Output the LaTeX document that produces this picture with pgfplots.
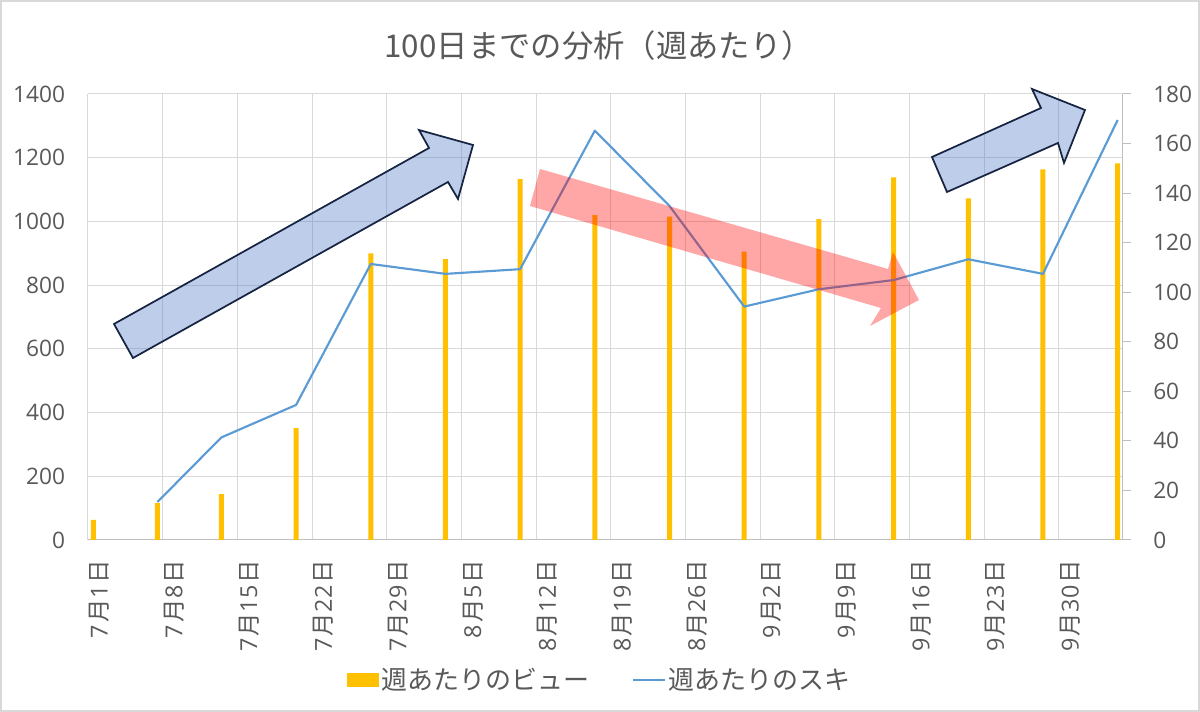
\documentclass[border=0pt]{standalone}
\usepackage{fontspec}
\setmainfont{Open Sans}
\newfontfamily\cjk{Noto Sans CJK JP}
\usepackage{pgfplots}
\pgfplotsset{compat=1.18}
\definecolor{textgray}{HTML}{595959}
\definecolor{gridgray}{HTML}{D9D9D9}
\definecolor{axisgray}{HTML}{BFBFBF}
\definecolor{barcolor}{HTML}{FFC000}
\definecolor{linecolor}{HTML}{5B9BD5}
\definecolor{arrowblue}{HTML}{4472C4}
\definecolor{arrowedge}{RGB}{22,36,66}
\newcommand{\dl}[2]{#1\kern1.5pt{\cjk 月}\kern0.5pt#2\kern1.5pt{\cjk 日}}
\begin{document}
\begin{tikzpicture}
\useasboundingbox (-66pt,-129pt) rectangle (834pt,405pt);
\fill[white] (-66pt,-129pt) rectangle (834pt,405pt);
\begin{axis}[
  scale only axis, width=776.25pt, height=334.5pt,
  xmin=0, xmax=97, ymin=0, ymax=1400,
  axis x line*=bottom, axis y line*=left,
  x axis line style={draw=axisgray, line width=0.75pt, -},
  y axis line style={draw=gridgray, line width=0.75pt, -},
  xtick={0,7,...,91},
  xticklabels={\dl{7}{1},\dl{7}{8},\dl{7}{15},\dl{7}{22},\dl{7}{29},\dl{8}{5},\dl{8}{12},\dl{8}{19},\dl{8}{26},\dl{9}{2},\dl{9}{9},\dl{9}{16},\dl{9}{23},\dl{9}{30}},
  ytick={0,200,...,1400},
  grid=major, major grid style={draw=gridgray, line width=0.75pt},
  major tick length=0pt,
  scaled ticks=false,
  /pgf/number format/assume math mode=true,
  /pgf/number format/1000 sep={},
  xticklabel style={font=\fontsize{17.5}{20}\selectfont, text=textgray, rotate=90, anchor=east, inner sep=0pt, xshift=-15pt, yshift=-8.6pt},
  yticklabel style={font=\fontsize{17}{20}\selectfont, text=textgray, anchor=east, inner sep=0pt, xshift=-17pt},
  ybar, bar width=3.75pt,
  legend columns=2,
  legend style={draw=none, fill=none, at={(axis description cs:0.4947,-0.3139)}, anchor=center,
    font=\cjk\fontsize{19.5}{22}\selectfont, text=textgray,
    nodes={inner sep=2pt},
    /tikz/every even column/.append style={column sep=30pt}},
]
\addplot[fill=barcolor, draw=none,
  legend image code/.code={\fill[barcolor] (0pt,-5pt) rectangle (24pt,5pt);}]
  coordinates {(0.5,63) (6.5,116) (12.5,144) (19.5,351) (26.5,900) (33.5,882) (40.5,1133) (47.5,1020) (54.5,1015) (61.5,905) (68.5,1007) (75.5,1138) (82.5,1072) (89.5,1163) (96.5,1182)};
\addlegendentry{週あたりのビュー}
\addlegendimage{linecolor, line width=1.6pt, legend image code/.code={\draw[linecolor, line width=1.6pt] (0pt,0pt) -- (24pt,0pt);}}
\addlegendentry{週あたりのスキ}
\end{axis}
\begin{axis}[
  scale only axis, width=776.25pt, height=334.5pt,
  xmin=0, xmax=97, ymin=0, ymax=180,
  axis y line*=right, axis x line=none,
  y axis line style={draw=axisgray, line width=0.75pt, -},
  ytick={0,20,...,180},
  tick align=outside, major tick length=6pt,
  ytick style={draw=axisgray, line width=0.75pt},
  /pgf/number format/assume math mode=true,
  yticklabel style={font=\fontsize{17}{20}\selectfont, text=textgray, anchor=west, inner sep=0pt, xshift=16.5pt},
]
\addplot[linecolor, line width=1.6pt, line join=round, mark=none]
  coordinates {(6.5,15.3) (12.5,41.4) (19.5,54.5) (26.5,111.4) (33.5,107.4) (40.5,109.3) (47.5,165.2) (54.5,134.8) (61.5,94.2) (68.5,101.2) (75.5,104.9) (82.5,113.3) (89.5,107.4) (96.5,169.5)};
\end{axis}
\node[font=\cjk\fontsize{23.5}{27}\selectfont, text=textgray] at (383pt,370.5pt) {100日までの分析（週あたり）};
\begin{scope}[shift={(-66pt,405pt)}, x=0.75pt, y=-0.75pt]
  \filldraw[fill=arrowblue, fill opacity=0.35, draw=arrowedge, line width=1.3pt, line join=miter]
    (114,324) -- (429,148) -- (419,130) -- (473,145) -- (458,199) -- (448,182) -- (133,358) -- cycle;
  \filldraw[fill=arrowblue, fill opacity=0.35, draw=arrowedge, line width=1.3pt, line join=miter]
    (932,157) -- (1041,108) -- (1032,89) -- (1085,110) -- (1064,163) -- (1058,143) -- (947,192) -- cycle;
  \fill[red, opacity=0.35]
    (540,169) -- (888,269) -- (893,252) -- (919,300) -- (870,326) -- (881,308) -- (530,206) -- cycle;
\end{scope}
\draw[gridgray, line width=1.5pt] (-65.25pt,-128.25pt) rectangle (833.25pt,404.25pt);
\end{tikzpicture}
\end{document}
